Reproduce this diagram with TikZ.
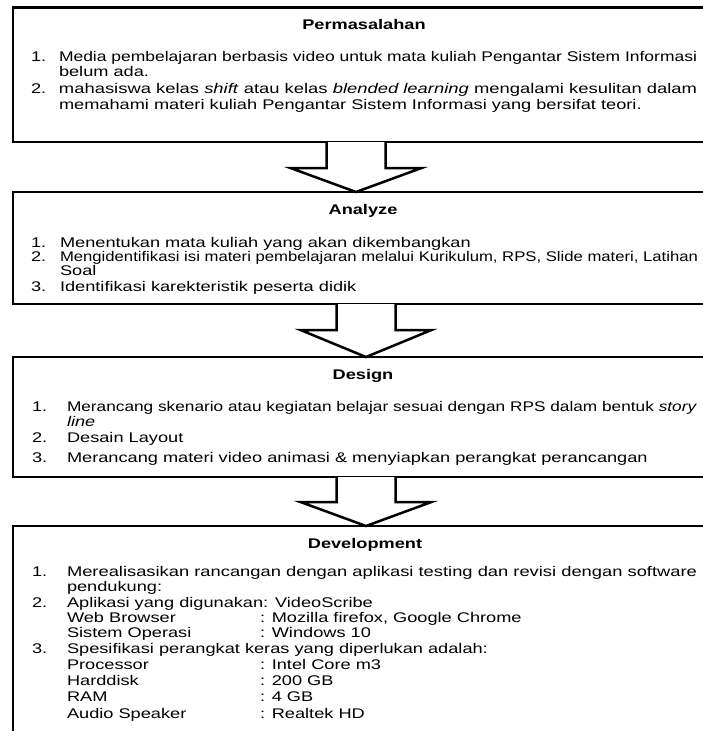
\documentclass[tikz,border=0pt]{standalone}
\usepackage{fontspec}
\setmainfont{Liberation Sans}
\usetikzlibrary{calc}
\newcommand\hs[1]{\scalebox{1.3}[1]{#1}}
\newcommand\jw[2]{\resizebox{#1}{\height}{#2}}
\tikzset{
  box/.style={draw, line width=2.5pt, anchor=north west, minimum width=707pt, inner sep=0, outer sep=0},
  barrow/.style={draw, line width=2.5pt, fill=white, line join=miter},
  txt/.style={anchor=base west, inner sep=0, outer sep=0, font=\fontsize{14}{16}\selectfont},
  ttl/.style={anchor=base, inner sep=0, outer sep=0, font=\fontsize{14}{16}\selectfont\bfseries}
}
\begin{document}
\begin{tikzpicture}[x=1pt, y=-1pt]
\useasboundingbox (0,0) rectangle (703,731);
\clip (0,0) rectangle (703,731);
\fill[white] (0,0) rectangle (703,731);
% boxes
\node[box, minimum height=134.5pt] (b1) at (13,7.5) {};
\node[box, minimum height=112pt] (b2) at (13,192) {};
\node[box, minimum height=120pt] (b3) at (13,357) {};
\node[box, minimum height=230pt] (b4) at (13,526) {};
% arrow centres
\coordinate (c1) at (356,0);
\coordinate (c2) at (366,0);
\coordinate (c3) at (366,0);
% block arrows
\draw[barrow] ($(b1.south -| c1)+(-29.5,0)$) -- ++(0,26) -- ++(-36,0) -- (b2.north -| c1)
  -- ($(b1.south -| c1)+(65.5,26)$) -- ++(-36,0) -- ($(b1.south -| c1)+(29.5,0)$);
\draw[barrow] ($(b2.south -| c2)+(-29.5,0)$) -- ++(0,26) -- ++(-36,0) -- (b3.north -| c2)
  -- ($(b2.south -| c2)+(65.5,26)$) -- ++(-36,0) -- ($(b2.south -| c2)+(29.5,0)$);
\draw[barrow] ($(b3.south -| c3)+(-29.5,0)$) -- ++(0,25) -- ++(-36,0) -- (b4.north -| c3)
  -- ($(b3.south -| c3)+(65.5,25)$) -- ++(-36,0) -- ($(b3.south -| c3)+(29.5,0)$);
% box 1
\node[ttl] (t1) at (364,29) {\hs{Permasalahan}};
\node[txt] (n11) at (31,61) {\hs{1.}};
\node[txt] (l11) at (59,61) {\jw{638pt}{Media pembelajaran berbasis video untuk mata kuliah Pengantar Sistem Informasi}};
\node[txt] (l12) at (59,76) {\hs{belum ada.}};
\node[txt] (n12) at (31,93) {\hs{2.}};
\node[txt] (l13) at (59,93) {\jw{638pt}{mahasiswa kelas \textit{shift} atau kelas \textit{blended learning} mengalami kesulitan dalam}};
\node[txt] (l14) at (59,109) {\hs{memahami materi kuliah Pengantar Sistem Informasi yang bersifat teori.}};
% box 2
\node[ttl] (t2) at (363,214) {\hs{Analyze}};
\node[txt] (n21) at (31,247) {\hs{1.}};
\node[txt] (l21) at (60,247) {\hs{Menentukan mata kuliah yang akan dikembangkan}};
\node[txt] (n22) at (31,261) {\hs{2.}};
\node[txt] (l22) at (60,261) {\jw{638pt}{Mengidentifikasi isi materi pembelajaran melalui Kurikulum, RPS, Slide materi, Latihan}};
\node[txt] (l23) at (60,275) {\hs{Soal}};
\node[txt] (n23) at (31,291) {\hs{3.}};
\node[txt] (l24) at (60,291) {\hs{Identifikasi karekteristik peserta didik}};
% box 3
\node[ttl] (t3) at (363,379) {\hs{Design}};
\node[txt] (n31) at (32,411) {\hs{1.}};
\node[txt] (l31) at (67,411) {\jw{630pt}{Merancang skenario atau kegiatan belajar sesuai dengan RPS dalam bentuk \textit{story}}};
\node[txt] (l32) at (67,426) {\hs{\textit{line}}};
\node[txt] (n32) at (32,442) {\hs{2.}};
\node[txt] (l33) at (67,442) {\hs{Desain Layout}};
\node[txt] (n33) at (32,462) {\hs{3.}};
\node[txt] (l34) at (67,462) {\hs{Merancang materi video animasi \& menyiapkan perangkat perancangan}};
% box 4
\node[ttl] (t4) at (365,548) {\hs{Development}};
\node[txt] (n41) at (32,576) {\hs{1.}};
\node[txt] (l41) at (67,576) {\jw{630pt}{Merealisasikan rancangan dengan aplikasi testing dan revisi dengan software}};
\node[txt] (l42) at (67,591) {\hs{pendukung:}};
\node[txt] (n42) at (32,607) {\hs{2.}};
\node[txt] (l43) at (67,607) {\hs{Aplikasi yang digunakan: VideoScribe}};
\node[txt] (l44) at (67,622) {\hs{Web Browser}};
\node[txt] (v44) at (260,622) {\hs{: Mozilla firefox, Google Chrome}};
\node[txt] (l45) at (67,637) {\hs{Sistem Operasi}};
\node[txt] (v45) at (260,637) {\hs{: Windows 10}};
\node[txt] (n43) at (32,653) {\hs{3.}};
\node[txt] (l46) at (67,653) {\hs{Spesifikasi perangkat keras yang diperlukan adalah:}};
\node[txt] (l47) at (67,669) {\hs{Processor}};
\node[txt] (v47) at (260,669) {\hs{: Intel Core m3}};
\node[txt] (l48) at (67,685) {\hs{Harddisk}};
\node[txt] (v48) at (260,685) {\hs{: 200 GB}};
\node[txt] (l49) at (67,701) {\hs{RAM}};
\node[txt] (v49) at (260,701) {\hs{: 4 GB}};
\node[txt] (l4a) at (67,718) {\hs{Audio Speaker}};
\node[txt] (v4a) at (260,718) {\hs{: Realtek HD}};
\end{tikzpicture}
\end{document}
